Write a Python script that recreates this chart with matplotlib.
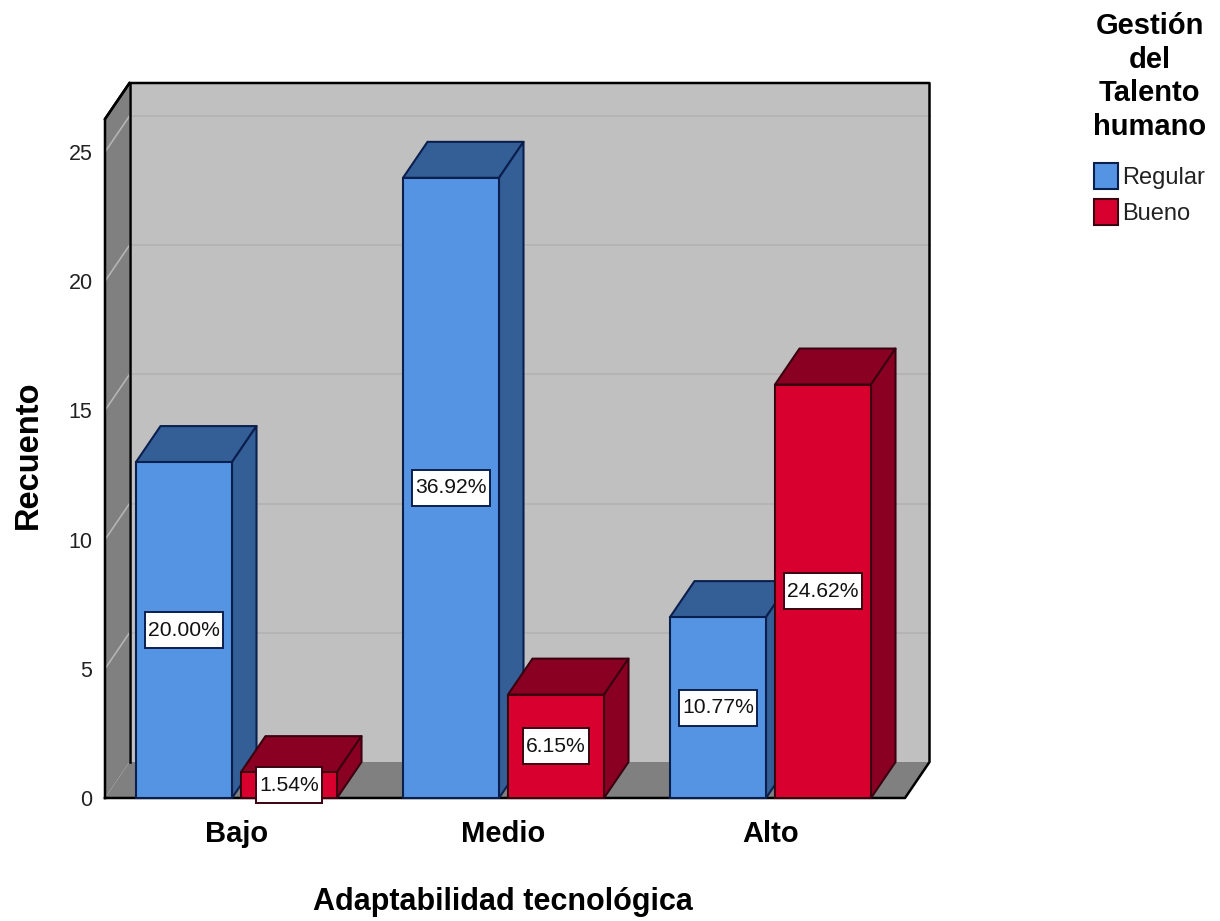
import matplotlib
matplotlib.use("Agg")
import matplotlib.pyplot as plt
from matplotlib.patches import Patch, Polygon
from matplotlib.path import Path
import numpy as np

# Chart data
categories = ["Bajo", "Medio", "Alto"]
series_names = ["Regular", "Bueno"]
regular_counts = [13, 24, 7]
bueno_counts = [1, 4, 16]
regular_pct = ["20.00%", "36.92%", "10.77%"]
bueno_pct = ["1.54%", "6.15%", "24.62%"]
y_ticks = [0, 5, 10, 15, 20, 25]

# Figure size and plot frame, in pixels
W, H = 1220, 921
FRONT_LEFT, FRONT_RIGHT = 105, 905
FRONT_BOTTOM, FRONT_TOP = 798, 119
PX_PER_COUNT = 25.84
PX_PER_CAT = 267.0
CAT0_PX = 236.5

# Depth of the box, in data units
DX = 24.5 / PX_PER_CAT
DY = 36 / PX_PER_COUNT
BAR_W = 96 / PX_PER_CAT
BAR_OFF = 52.5 / PX_PER_CAT

WALL = "#c0c0c0"
FLOOR = "#808080"
GRID = "#b2b2b2"
BLUE = ("#5594e3", "#335f96", "#0b1f4f")
RED = ("#d8002e", "#8a0022", "#3a0010")


def poly(ax, pts, face, edge="none", lw=1.5, z=1):
	ax.add_patch(Polygon(pts, closed=True, facecolor=face, edgecolor=edge,
		linewidth=lw, zorder=z, clip_on=False, joinstyle="round"))


# Label box with more padding above and below than at the sides
def label_box(x0, y0, width, height, mutation_size):
	l, r = x0 - 3.5, x0 + width + 3.5
	b, t = y0 - 8.5, y0 + height + 8.5
	return Path([(l, b), (r, b), (r, t), (l, t), (l, b)], closed=True)


# Walls, floor and grid lines of the box
def draw_box(ax, x0, x1, top):
	poly(ax, [(x0 + DX, DY), (x1 + DX, DY), (x1 + DX, top + DY), (x0 + DX, top + DY)], WALL, z=1)
	poly(ax, [(x0, 0), (x0 + DX, DY), (x0 + DX, top + DY), (x0, top)], FLOOR, z=1)
	poly(ax, [(x0, 0), (x1, 0), (x1 + DX, DY), (x0 + DX, DY)], FLOOR, z=1)
	for v in y_ticks[1:]:
		ax.plot([x0 + DX, x1 + DX], [v + DY, v + DY], color=GRID, lw=1.2, zorder=2, clip_on=False)
		ax.plot([x0, x0 + DX], [v, v + DY], color="#b4b4b4", lw=1.2, zorder=2, clip_on=False)
	ax.plot([x0, x0, x0 + DX, x1 + DX, x1 + DX, x1, x0],
		[0, top, top + DY, top + DY, DY, 0, 0], color="black", lw=1.8, zorder=3, clip_on=False)
	ax.plot([x0 + DX, x0 + DX], [DY, top + DY], color="black", lw=1.8, zorder=3, clip_on=False)
	ax.plot([x0, x0 + DX], [top, top + DY], color="black", lw=1.8, zorder=3, clip_on=False)


# Bar front through ax.bar, then the top and side faces
def draw_bar(ax, x, value, colors, z):
	front, shade, edge = colors
	l, r = x - BAR_W / 2, x + BAR_W / 2
	poly(ax, [(l, value), (r, value), (r + DX, value + DY), (l + DX, value + DY)], shade, edge, z=z)
	poly(ax, [(r, 0), (r + DX, DY), (r + DX, value + DY), (r, value)], shade, edge, z=z)
	ax.bar(x, value, width=BAR_W, color=front, edgecolor=edge, linewidth=1.5, zorder=z + 0.1, clip_on=False)


def pct_label(ax, x, value, text, edge):
	box = dict(boxstyle=label_box, facecolor="white", edgecolor=edge, linewidth=1.4)
	ax.text(x, value / 2, text, ha="center", va="center", fontsize=15.2,
		color="#111111", bbox=box, zorder=20)


def main():
	plt.rcParams["font.family"] = ["Liberation Sans", "DejaVu Sans"]
	fig = plt.figure(figsize=(W / 100, H / 100), dpi=100)
	ax = fig.add_axes([FRONT_LEFT / W, 1 - FRONT_BOTTOM / H,
		(FRONT_RIGHT - FRONT_LEFT) / W, (FRONT_BOTTOM - FRONT_TOP) / H])
	x0 = (FRONT_LEFT - CAT0_PX) / PX_PER_CAT
	x1 = (FRONT_RIGHT - CAT0_PX) / PX_PER_CAT
	top = (FRONT_BOTTOM - FRONT_TOP) / PX_PER_COUNT
	ax.set_xlim(x0, x1)
	ax.set_ylim(0, top)

	draw_box(ax, x0, x1, top)

	pos = np.arange(len(categories))
	for i in pos:
		draw_bar(ax, i - BAR_OFF, regular_counts[i], BLUE, 4 + i * 2)
		draw_bar(ax, i + BAR_OFF, bueno_counts[i], RED, 5 + i * 2)

	# Percentage labels centred on each bar
	for i in pos:
		pct_label(ax, i - BAR_OFF, regular_counts[i], regular_pct[i], BLUE[2])
		pct_label(ax, i + BAR_OFF, bueno_counts[i], bueno_pct[i], RED[2])

	for s in ax.spines.values():
		s.set_visible(False)
	ax.patch.set_visible(False)
	ax.set_yticks(y_ticks)
	ax.tick_params(axis="y", length=0, pad=9, labelsize=15.5, labelcolor="#222222")
	ax.set_xticks(pos)
	ax.set_xticklabels(categories, fontsize=21, fontweight="bold")
	ax.tick_params(axis="x", length=0, pad=16)
	ax.set_xlabel("Adaptabilidad tecnológica", fontsize=22, fontweight="bold")
	ax.xaxis.set_label_coords((503 - FRONT_LEFT) / (FRONT_RIGHT - FRONT_LEFT), -104 / (FRONT_BOTTOM - FRONT_TOP), ax.transAxes)
	ax.xaxis.label.set_va("center")
	ax.set_ylabel("Recuento", fontsize=23.5, fontweight="bold")
	ax.yaxis.set_label_coords(-77 / (FRONT_RIGHT - FRONT_LEFT), (FRONT_BOTTOM - 455) / (FRONT_BOTTOM - FRONT_TOP))
	ax.yaxis.label.set_va("center")

	handles = [Patch(facecolor=BLUE[0], edgecolor=BLUE[2], linewidth=1.5),
		Patch(facecolor=RED[0], edgecolor=RED[2], linewidth=1.5)]
	leg = fig.legend(handles, series_names, loc="upper left",
		bbox_to_anchor=(1093 / W, 1 - 12 / H), bbox_transform=fig.transFigure,
		title="Gestión\ndel\nTalento\nhumano", title_fontproperties={"size": 21, "weight": "bold"},
		fontsize=17, frameon=False, handlelength=1.0, handleheight=1.33,
		handletextpad=0.2, labelspacing=0.44, borderpad=0, borderaxespad=0,
		alignment="center", labelcolor="#222222")
	leg.get_title().set_linespacing(1.26)
	leg.get_title().set_multialignment("center")
	# Extra room between the legend title and its entries
	leg._legend_box.sep = 15.5

	fig.savefig("out.png", dpi=100)
	plt.close(fig)


if __name__ == "__main__":
	main()
